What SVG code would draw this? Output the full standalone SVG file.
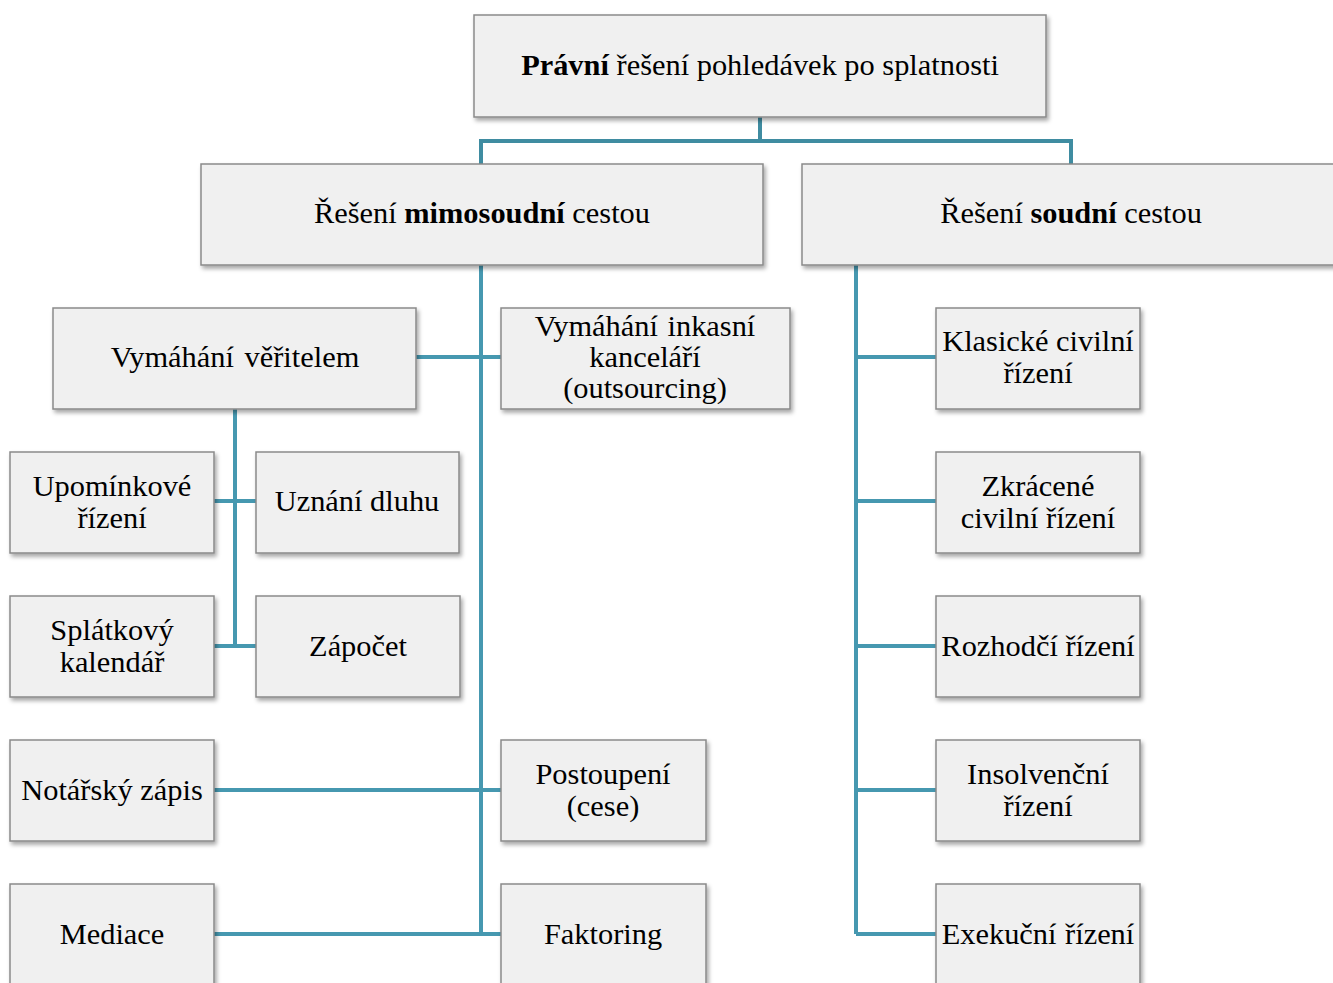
<svg xmlns="http://www.w3.org/2000/svg" width="1333" height="983" viewBox="0 0 1333 983">
  <style>
    .box { fill: #f0f0f0; stroke: #8a8a8a; stroke-width: 1.5; filter: url(#shadow); }
    .lbl { font-family: "Liberation Serif", "Times New Roman", serif; font-size: 30.4px; fill: #000; text-anchor: middle; }
    .b { font-weight: bold; }
    .conn { stroke: #4698b0; stroke-width: 4; fill: none; }
    .conn-top { stroke: #3f8ca1; stroke-width: 4; fill: none; }
  </style>
  <defs>
    <filter id="shadow" x="-10%" y="-10%" width="120%" height="130%">
      <feDropShadow dx="2" dy="3" stdDeviation="2" flood-color="#000" flood-opacity="0.35"/>
    </filter>
  </defs>
  <rect width="1333" height="983" fill="#fff"/>

  <!-- connectors -->
  <g id="connectors">
    <path class="conn-top" d="M760 117 V141 M481 141 H1071 M481 139 V164 M1071 139 V164"/>
    <!-- extrajudicial trunk -->
    <path class="conn" d="M481 265 V934"/>
    <path class="conn" d="M416 357 H501"/>
    <path class="conn" d="M214 790 H501"/>
    <path class="conn" d="M214 934 H501"/>
    <!-- creditor sub-tree -->
    <path class="conn" d="M235 409 V646"/>
    <path class="conn" d="M214 501 H256"/>
    <path class="conn" d="M214 646 H256"/>
    <!-- judicial trunk -->
    <path class="conn" d="M856 265 V934"/>
    <path class="conn" d="M856 357 H936 M856 501 H936 M856 646 H936 M856 790 H936 M856 934 H936"/>
  </g>

  <g id="root">
    <rect class="box" x="474" y="15" width="572" height="102"/>
    <text class="lbl" x="760" y="75"><tspan class="b">Právní</tspan> řešení pohledávek po splatnosti</text>
  </g>

  <g id="mimosoudni">
    <rect class="box" x="201" y="164" width="562" height="101"/>
    <text class="lbl" x="482" y="223">Řešení <tspan class="b">mimosoudní</tspan> cestou</text>
  </g>

  <g id="soudni">
    <rect class="box" x="802" y="164" width="545" height="101"/>
    <text class="lbl" x="1071" y="223">Řešení <tspan class="b">soudní</tspan> cestou</text>
  </g>

  <g id="veritel">
    <rect class="box" x="53" y="308" width="363" height="101"/>
    <text class="lbl" x="235" y="367" word-spacing="3">Vymáhání věřitelem</text>
  </g>

  <g id="inkaso">
    <rect class="box" x="501" y="308" width="289" height="101"/>
    <text class="lbl" x="645" y="336" word-spacing="2">Vymáhání inkasní</text>
    <text class="lbl" x="645" y="367">kanceláří</text>
    <text class="lbl" x="645" y="398">(outsourcing)</text>
  </g>

  <g id="upominkove">
    <rect class="box" x="10" y="452" width="204" height="101"/>
    <text class="lbl" x="112" y="496">Upomínkové</text>
    <text class="lbl" x="112" y="528">řízení</text>
  </g>

  <g id="uznani">
    <rect class="box" x="256" y="452" width="203" height="101"/>
    <text class="lbl" x="357" y="511">Uznání dluhu</text>
  </g>

  <g id="splatkovy">
    <rect class="box" x="10" y="596" width="204" height="101"/>
    <text class="lbl" x="112" y="640">Splátkový</text>
    <text class="lbl" x="112" y="672">kalendář</text>
  </g>

  <g id="zapocet">
    <rect class="box" x="256" y="596" width="204" height="101"/>
    <text class="lbl" x="358" y="656">Zápočet</text>
  </g>

  <g id="notarsky">
    <rect class="box" x="10" y="740" width="204" height="101"/>
    <text class="lbl" x="112" y="800">Notářský zápis</text>
  </g>

  <g id="postoupeni">
    <rect class="box" x="501" y="740" width="205" height="101"/>
    <text class="lbl" x="603" y="784">Postoupení</text>
    <text class="lbl" x="603" y="816">(cese)</text>
  </g>

  <g id="mediace">
    <rect class="box" x="10" y="884" width="204" height="110"/>
    <text class="lbl" x="112" y="944">Mediace</text>
  </g>

  <g id="faktoring">
    <rect class="box" x="501" y="884" width="205" height="110"/>
    <text class="lbl" x="603" y="944">Faktoring</text>
  </g>

  <g id="klasicke">
    <rect class="box" x="936" y="308" width="204" height="101"/>
    <text class="lbl" x="1038" y="351">Klasické civilní</text>
    <text class="lbl" x="1038" y="383">řízení</text>
  </g>

  <g id="zkracene">
    <rect class="box" x="936" y="452" width="204" height="101"/>
    <text class="lbl" x="1038" y="496">Zkrácené</text>
    <text class="lbl" x="1038" y="528">civilní řízení</text>
  </g>

  <g id="rozhodci">
    <rect class="box" x="936" y="596" width="204" height="101"/>
    <text class="lbl" x="1038" y="656">Rozhodčí řízení</text>
  </g>

  <g id="insolvencni">
    <rect class="box" x="936" y="740" width="204" height="101"/>
    <text class="lbl" x="1038" y="784">Insolvenční</text>
    <text class="lbl" x="1038" y="816">řízení</text>
  </g>

  <g id="exekucni">
    <rect class="box" x="936" y="884" width="204" height="110"/>
    <text class="lbl" x="1038" y="944" word-spacing="1">Exekuční řízení</text>
  </g>
</svg>
